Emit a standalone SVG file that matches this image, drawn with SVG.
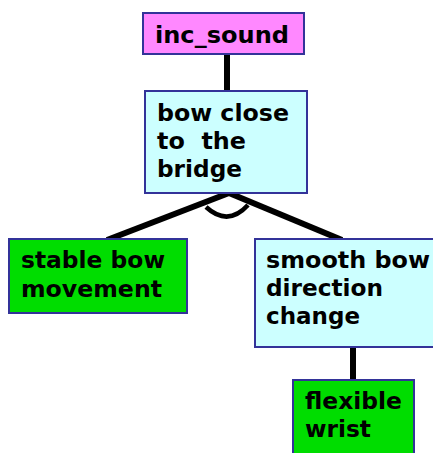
<svg xmlns="http://www.w3.org/2000/svg" width="433" height="453" viewBox="0 0 433 453">
  <style>
    .box { stroke: #333399; stroke-width: 2; }
    .goal { fill: #ff88ff; }
    .sub { fill: #ccffff; }
    .leaf { fill: #00dd00; }
    .lbl { font-family: "DejaVu Sans", Verdana, sans-serif; font-weight: bold; font-size: 23px; fill: #000; white-space: pre; }
    .edge { stroke: #000; stroke-width: 6; fill: none; }
    .and { stroke: #000; stroke-width: 4.5; fill: none; }
  </style>
  <rect width="433" height="453" fill="#fff"/>

  <!-- connectors -->
  <g id="connectors">
    <line class="edge" x1="227" y1="54" x2="227" y2="91"/>
    <line class="edge" x1="229" y1="193" x2="107" y2="240"/>
    <line class="edge" x1="229" y1="193" x2="342" y2="240"/>
    <path class="and" d="M206,207 Q228,227 248,205"/>
    <line class="edge" x1="353" y1="347" x2="353" y2="380"/>
  </g>

  <g id="inc_sound">
    <rect class="box goal" x="143" y="13" width="161" height="41"/>
    <text class="lbl" x="155" y="43" font-size="24" textLength="134" lengthAdjust="spacingAndGlyphs">inc_sound</text>
  </g>

  <g id="bow_close">
    <rect class="box sub" x="145" y="91" width="162" height="102"/>
    <text class="lbl" x="157" y="121" textLength="132" lengthAdjust="spacingAndGlyphs">bow close</text>
    <text class="lbl" x="157" y="149" textLength="89" lengthAdjust="spacingAndGlyphs">to  the</text>
    <text class="lbl" x="157" y="177" textLength="85" lengthAdjust="spacingAndGlyphs">bridge</text>
  </g>

  <g id="stable_bow">
    <rect class="box leaf" x="9" y="239" width="178" height="74"/>
    <text class="lbl" x="21" y="268" textLength="144" lengthAdjust="spacingAndGlyphs">stable bow</text>
    <text class="lbl" x="21" y="297" textLength="141" lengthAdjust="spacingAndGlyphs">movement</text>
  </g>

  <g id="smooth_bow">
    <rect class="box sub" x="255" y="239" width="190" height="108"/>
    <text class="lbl" x="266" y="268" textLength="164" lengthAdjust="spacingAndGlyphs">smooth bow</text>
    <text class="lbl" x="266" y="296" textLength="117" lengthAdjust="spacingAndGlyphs">direction</text>
    <text class="lbl" x="266" y="324" textLength="94" lengthAdjust="spacingAndGlyphs">change</text>
  </g>

  <g id="flexible_wrist">
    <rect class="box leaf" x="293" y="380" width="121" height="80"/>
    <text class="lbl" x="305" y="409" textLength="97" lengthAdjust="spacingAndGlyphs">flexible</text>
    <text class="lbl" x="305" y="437" textLength="66" lengthAdjust="spacingAndGlyphs">wrist</text>
  </g>
</svg>
